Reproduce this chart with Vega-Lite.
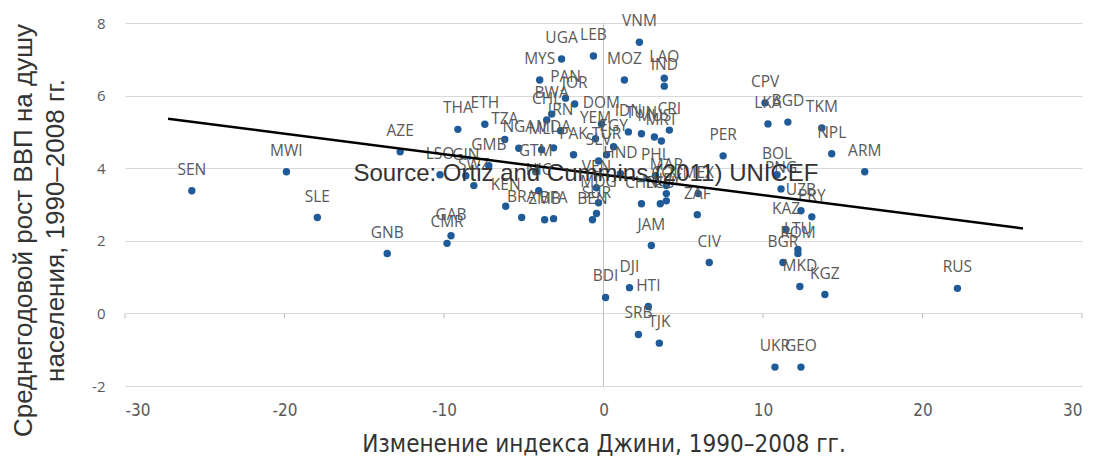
{
  "$schema": "https://vega.github.io/schema/vega-lite/v6.json",
  "width": 957,
  "height": 363,
  "autosize": "none",
  "padding": {"left": 125, "top": 23, "right": 20, "bottom": 75},
  "background": "white",
  "config": {"view": {"stroke": null}},
  "datasets": {
    "pts": [
      {"code": "SEN", "gini": -25.81, "growth": 3.38},
      {"code": "MWI", "gini": -19.88, "growth": 3.9},
      {"code": "SLE", "gini": -17.94, "growth": 2.64},
      {"code": "GNB", "gini": -13.56, "growth": 1.65},
      {"code": "AZE", "gini": -12.75, "growth": 4.45},
      {"code": "LSO", "gini": -10.25, "growth": 3.82},
      {"code": "GIN", "gini": -8.63, "growth": 3.79},
      {"code": "THA", "gini": -9.13, "growth": 5.07},
      {"code": "ETH", "gini": -7.44, "growth": 5.21},
      {"code": "TZA", "gini": -6.19, "growth": 4.79},
      {"code": "GMB", "gini": -7.19, "growth": 4.07},
      {"code": "SWZ", "gini": -8.13, "growth": 3.52},
      {"code": "KEN", "gini": -6.13, "growth": 2.95},
      {"code": "BRA", "gini": -5.13, "growth": 2.64},
      {"code": "ZMB", "gini": -3.69, "growth": 2.58},
      {"code": "BFA", "gini": -3.13, "growth": 2.61},
      {"code": "GAB", "gini": -9.56, "growth": 2.14},
      {"code": "CMR", "gini": -9.81, "growth": 1.93},
      {"code": "NGA", "gini": -5.31, "growth": 4.55},
      {"code": "MLI", "gini": -3.88, "growth": 4.51},
      {"code": "MDA", "gini": -3.13, "growth": 4.56},
      {"code": "GTM", "gini": -4.25, "growth": 3.9},
      {"code": "NIC", "gini": -4.06, "growth": 3.38},
      {"code": "VNM", "gini": 2.25, "growth": 7.47},
      {"code": "UGA", "gini": -2.63, "growth": 7.01},
      {"code": "LEB", "gini": -0.63, "growth": 7.09},
      {"code": "MYS", "gini": -4.0, "growth": 6.43},
      {"code": "MOZ", "gini": 1.31, "growth": 6.43},
      {"code": "LAO", "gini": 3.81, "growth": 6.48},
      {"code": "IND", "gini": 3.81, "growth": 6.26},
      {"code": "PAN", "gini": -2.38, "growth": 5.93},
      {"code": "JOR", "gini": -1.81, "growth": 5.77},
      {"code": "BWA", "gini": -3.25, "growth": 5.49},
      {"code": "CHL", "gini": -3.56, "growth": 5.33},
      {"code": "IRN", "gini": -2.69, "growth": 5.03},
      {"code": "DOM", "gini": -0.13, "growth": 5.22},
      {"code": "IDN", "gini": 1.56, "growth": 5.0},
      {"code": "TUN", "gini": 2.38, "growth": 4.95},
      {"code": "MUS", "gini": 3.19, "growth": 4.86},
      {"code": "CRI", "gini": 4.13, "growth": 5.05},
      {"code": "MRT", "gini": 3.63, "growth": 4.75},
      {"code": "YEM", "gini": -0.5, "growth": 4.81},
      {"code": "EGY", "gini": 0.63, "growth": 4.59},
      {"code": "PAK", "gini": -1.88, "growth": 4.37},
      {"code": "TUR", "gini": 0.19, "growth": 4.37},
      {"code": "SLV", "gini": -0.31, "growth": 4.2},
      {"code": "HND", "gini": 1.06, "growth": 3.85},
      {"code": "PHL", "gini": 3.25, "growth": 3.79},
      {"code": "MAR", "gini": 3.94, "growth": 3.52},
      {"code": "COL", "gini": 3.94, "growth": 3.3},
      {"code": "URY", "gini": 3.94, "growth": 3.1},
      {"code": "ECU", "gini": 3.56, "growth": 3.02},
      {"code": "CHN", "gini": 2.38, "growth": 3.02},
      {"code": "MEX", "gini": 5.94, "growth": 3.3},
      {"code": "ZAF", "gini": 5.88, "growth": 2.72},
      {"code": "VEN", "gini": -0.44, "growth": 3.46},
      {"code": "MDG", "gini": -0.31, "growth": 3.05},
      {"code": "SUR", "gini": -0.44, "growth": 2.75},
      {"code": "BEN", "gini": -0.69, "growth": 2.58},
      {"code": "JAM", "gini": 3.0, "growth": 1.87},
      {"code": "BDI", "gini": 0.13, "growth": 0.44},
      {"code": "DJI", "gini": 1.63, "growth": 0.71},
      {"code": "HTI", "gini": 2.81, "growth": 0.19},
      {"code": "SRB", "gini": 2.19, "growth": -0.58},
      {"code": "TJK", "gini": 3.5, "growth": -0.82},
      {"code": "PER", "gini": 7.5, "growth": 4.34},
      {"code": "CPV", "gini": 10.13, "growth": 5.8},
      {"code": "LKA", "gini": 10.31, "growth": 5.22},
      {"code": "BGD", "gini": 11.56, "growth": 5.27},
      {"code": "TKM", "gini": 13.69, "growth": 5.11},
      {"code": "NPL", "gini": 14.31, "growth": 4.4},
      {"code": "ARM", "gini": 16.38, "growth": 3.9},
      {"code": "BOL", "gini": 10.88, "growth": 3.82},
      {"code": "PNG", "gini": 11.13, "growth": 3.43},
      {"code": "UZB", "gini": 12.38, "growth": 2.83},
      {"code": "PRY", "gini": 13.06, "growth": 2.66},
      {"code": "KAZ", "gini": 11.44, "growth": 2.31},
      {"code": "LTU", "gini": 12.19, "growth": 1.76},
      {"code": "ROM", "gini": 12.19, "growth": 1.65},
      {"code": "BGR", "gini": 11.25, "growth": 1.4},
      {"code": "MKD", "gini": 12.31, "growth": 0.74},
      {"code": "KGZ", "gini": 13.88, "growth": 0.52},
      {"code": "CIV", "gini": 6.63, "growth": 1.4},
      {"code": "UKR", "gini": 10.75, "growth": -1.48},
      {"code": "GEO", "gini": 12.38, "growth": -1.48},
      {"code": "RUS", "gini": 22.19, "growth": 0.69}
    ],
    "trend": [
      {"gini": -27.3, "growth": 5.36},
      {"gini": 26.3, "growth": 2.34}
    ],
    "note": [
      {"gini": -1.1, "growth": 3.85, "label": "Source: Ortiz and Cummins (2011) UNICEF"}
    ],
    "xticks": [
      {"t": -30}, {"t": -20}, {"t": -10}, {"t": 0}, {"t": 10}, {"t": 20}, {"t": 30}
    ]
  },
  "layer": [
    {
      "data": {"values": [{"v": 0}]},
      "mark": {"type": "rule", "color": "#bfbfbf", "strokeWidth": 1},
      "encoding": {
        "x": {"field": "v", "type": "quantitative", "scale": {"domain": [-30, 30], "nice": false}}
      }
    },
    {
      "data": {"name": "xticks"},
      "mark": {"type": "rule", "color": "#bfbfbf", "strokeWidth": 1},
      "encoding": {
        "x": {"field": "t", "type": "quantitative", "scale": {"domain": [-30, 30], "nice": false}},
        "y": {"datum": 0, "type": "quantitative", "scale": {"domain": [-2, 8], "nice": false}},
        "y2": {"datum": -0.14}
      }
    },
    {
      "data": {"name": "pts"},
      "mark": {"type": "circle", "size": 55, "color": "#1f5b98", "opacity": 1},
      "encoding": {
        "x": {
          "field": "gini", "type": "quantitative",
          "scale": {"domain": [-30, 30], "nice": false},
          "axis": {
            "values": [-30, -20, -10, 0, 10, 20, 30],
            "labelExpr": "replace(datum.label, '−', '-')",
            "grid": false, "domain": false, "ticks": false,
            "labelFont": "Liberation Sans Narrow, DejaVu Sans Condensed, Liberation Sans",
            "labelFontSize": 17, "labelColor": "#595959", "labelPadding": 16,
            "title": "Изменение индекса Джини, 1990–2008 гг.",
            "titleFont": "Liberation Sans Narrow, DejaVu Sans Condensed, Liberation Sans",
            "titleFontSize": 24, "titleFontWeight": "normal", "titleColor": "#333333",
            "titlePadding": 14
          }
        },
        "y": {
          "field": "growth", "type": "quantitative",
          "scale": {"domain": [-2, 8], "nice": false},
          "axis": {
            "values": [-2, 0, 2, 4, 6, 8],
            "labelExpr": "replace(datum.label, '−', '-')",
            "grid": true, "gridColor": "#d9d9d9", "gridWidth": 1.2,
            "domain": false, "ticks": false,
            "labelFont": "Open Sans", "labelFontSize": 15, "labelColor": "#595959",
            "labelPadding": 20,
            "title": ["Среднегодовой рост ВВП на душу", "населения, 1990–2008 гг."],
            "titleFont": "Liberation Sans", "titleFontSize": 26, "titleFontWeight": "normal",
            "titleColor": "#333333", "titleLineHeight": 32,
            "titleAngle": -90, "titleAlign": "center", "titleBaseline": "top",
            "titleX": -115, "titleY": 207
          }
        }
      }
    },
    {
      "data": {"name": "pts"},
      "mark": {"type": "text", "dy": -21, "font": "Open Sans", "fontSize": 15.5, "color": "#595959"},
      "encoding": {
        "x": {"field": "gini", "type": "quantitative", "scale": {"domain": [-30, 30], "nice": false}},
        "y": {"field": "growth", "type": "quantitative", "scale": {"domain": [-2, 8], "nice": false}},
        "text": {"field": "code"}
      }
    },
    {
      "data": {"name": "trend"},
      "mark": {"type": "line", "color": "#000000", "strokeWidth": 2.5},
      "encoding": {
        "x": {"field": "gini", "type": "quantitative", "scale": {"domain": [-30, 30], "nice": false}},
        "y": {"field": "growth", "type": "quantitative", "scale": {"domain": [-2, 8], "nice": false}}
      }
    },
    {
      "data": {"name": "note"},
      "mark": {"type": "text", "font": "Liberation Sans", "fontSize": 24, "color": "#333333"},
      "encoding": {
        "x": {"field": "gini", "type": "quantitative", "scale": {"domain": [-30, 30], "nice": false}},
        "y": {"field": "growth", "type": "quantitative", "scale": {"domain": [-2, 8], "nice": false}},
        "text": {"field": "label"}
      }
    }
  ]
}
